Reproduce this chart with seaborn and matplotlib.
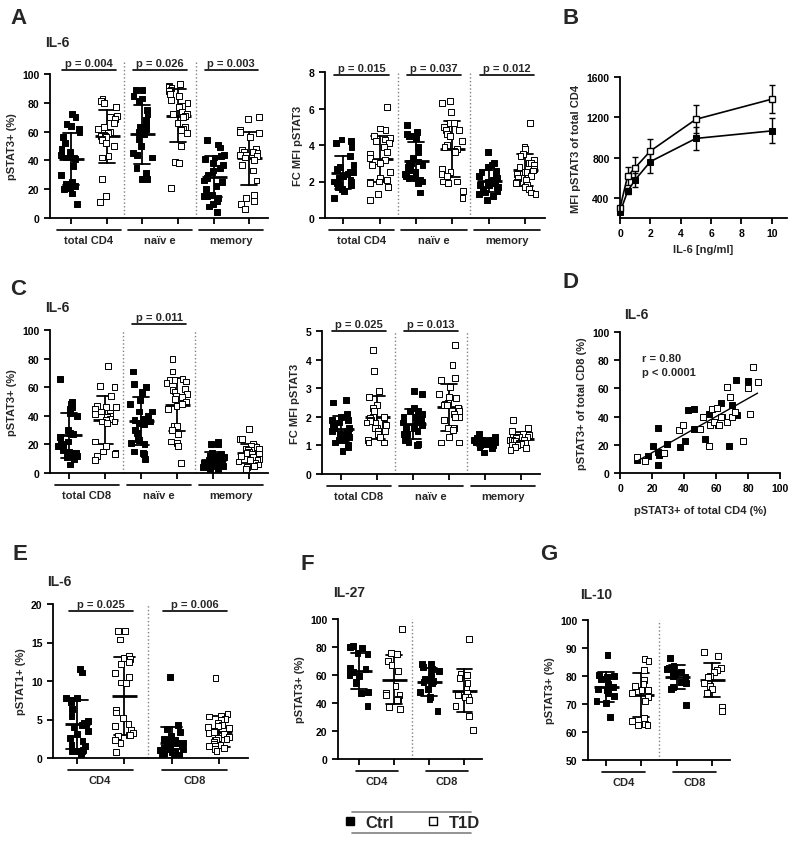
import warnings
import numpy as np
import pandas as pd
import seaborn as sns
import matplotlib
matplotlib.use('Agg')
from matplotlib import pyplot as plt
from matplotlib.lines import Line2D

warnings.filterwarnings('ignore')
np.random.seed(3)

groups = ['Ctrl', 'T1D']
pal = {'Ctrl': 'black', 'T1D': 'white'}

subsets_cd4 = ['total CD4', 'naïv e', 'memory']
subsets_cd8 = ['total CD8', 'naïv e', 'memory']
cells = ['CD4', 'CD8']

# A left - IL-6, pSTAT3+ (%) in CD4 subsets
a1_ctrl = [[72, 70, 65, 64, 62, 60, 56, 52, 48, 46, 44, 43, 42, 42, 41, 36, 30, 25, 24, 24, 23, 22, 21, 20, 17, 10],
           [89, 89, 85, 83, 81, 75, 72, 68, 65, 63, 62, 60, 58, 55, 50, 45, 44, 42, 35, 31, 28, 27, 27],
           [54, 51, 49, 44, 43, 42, 41, 38, 37, 35, 33, 32, 30, 28, 26, 25, 22, 20, 16, 15, 15, 14, 12, 10, 8, 4]]
a1_t1d = [[83, 81, 80, 77, 71, 70, 69, 66, 63, 62, 60, 59, 58, 57, 57, 56, 55, 54, 52, 50, 43, 42, 27, 15, 11],
          [93, 92, 91, 90, 89, 88, 86, 85, 82, 80, 78, 77, 74, 72, 72, 71, 70, 66, 63, 62, 61, 59, 50, 39, 38, 21],
          [70, 69, 61, 60, 60, 59, 56, 48, 47, 46, 46, 45, 44, 44, 43, 42, 40, 37, 33, 26, 16, 14, 12, 10, 6]]
a1_p = ['p = 0.004', 'p = 0.026', 'p = 0.003']

# A right - IL-6, FC MFI pSTAT3 in CD4 subsets
a2_ctrl = [[4.3, 4.2, 4.1, 3.9, 3.4, 2.9, 2.8, 2.7, 2.6, 2.5, 2.5, 2.4, 2.3, 2.2, 2.1, 2.0, 2.0, 1.9, 1.9, 1.8, 1.8, 1.7, 1.6, 1.5, 1.1],
           [5.1, 4.7, 4.6, 4.5, 4.5, 4.4, 3.9, 3.6, 3.3, 3.1, 3.0, 3.0, 2.9, 2.8, 2.7, 2.6, 2.5, 2.4, 2.3, 2.2, 2.2, 2.1, 2.0, 1.9, 1.4],
           [3.6, 3.0, 2.9, 2.8, 2.6, 2.5, 2.4, 2.3, 2.2, 2.1, 2.0, 2.0, 1.9, 1.9, 1.8, 1.8, 1.7, 1.7, 1.6, 1.5, 1.5, 1.4, 1.3, 1.2, 1.0]]
a2_t1d = [[6.1, 4.9, 4.8, 4.5, 4.4, 4.3, 4.2, 4.1, 3.9, 3.6, 3.5, 3.3, 3.2, 3.1, 3.0, 2.9, 2.5, 2.2, 2.1, 2.0, 2.0, 1.9, 1.7, 1.3, 1.0],
          [6.4, 6.3, 5.8, 5.2, 5.2, 5.0, 4.8, 4.8, 4.6, 4.5, 4.2, 4.0, 3.9, 3.8, 3.7, 3.6, 2.7, 2.5, 2.4, 2.3, 2.0, 2.0, 1.9, 1.5, 1.1],
          [5.2, 3.9, 3.8, 3.5, 3.4, 3.2, 3.0, 3.0, 2.9, 2.8, 2.7, 2.6, 2.5, 2.5, 2.4, 2.3, 2.2, 2.1, 2.0, 1.9, 1.8, 1.7, 1.6, 1.4, 1.3]]
a2_p = ['p = 0.015', 'p = 0.037', 'p = 0.012']

# B - dose response, MFI pSTAT3 of total CD4
b_conc = [0, 0.5, 1, 2, 5, 10]
b_ctrl = [255, 465, 580, 760, 990, 1065]
b_ctrl_err = [20, 30, 70, 115, 115, 125]
b_t1d = [300, 615, 700, 865, 1180, 1380]
b_t1d_err = [20, 92, 105, 115, 140, 137]

# C left - IL-6, pSTAT3+ (%) in CD8 subsets
c1_ctrl = [[66, 50, 48, 46, 45, 42, 40, 30, 28, 27, 25, 22, 21, 20, 19, 18, 16, 15, 14, 14, 13, 12, 11, 10, 6],
           [71, 62, 60, 57, 56, 51, 48, 43, 43, 40, 38, 37, 36, 35, 34, 30, 28, 24, 23, 21, 20, 15, 14, 13, 10],
           [22, 20, 20, 14, 13, 12, 12, 11, 10, 10, 9, 9, 8, 8, 8, 7, 7, 6, 6, 5, 5, 4, 4, 3, 3]]
c1_t1d = [[75, 61, 60, 54, 47, 46, 46, 45, 43, 42, 41, 40, 39, 38, 37, 36, 36, 35, 22, 19, 15, 14, 13, 12, 9],
          [80, 71, 66, 65, 65, 64, 63, 59, 58, 57, 55, 54, 53, 52, 50, 48, 47, 45, 33, 33, 30, 27, 22, 21, 19, 7],
          [31, 24, 24, 20, 19, 18, 17, 17, 16, 16, 15, 14, 13, 13, 12, 11, 10, 9, 9, 8, 7, 6, 5, 4, 3]]
c1_p = [None, 'p = 0.011', None]

# C right - IL-6, FC MFI pSTAT3 in CD8 subsets
c2_ctrl = [[2.6, 2.5, 2.1, 2.0, 1.9, 1.9, 1.8, 1.7, 1.7, 1.6, 1.6, 1.5, 1.5, 1.5, 1.4, 1.4, 1.3, 1.3, 1.2, 1.2, 1.1, 1.0, 0.95, 0.8],
           [2.9, 2.8, 2.3, 2.2, 2.2, 2.1, 2.0, 2.0, 1.9, 1.8, 1.8, 1.7, 1.6, 1.6, 1.5, 1.5, 1.4, 1.4, 1.3, 1.2, 1.1, 1.05, 1.0],
           [1.4, 1.3, 1.25, 1.2, 1.2, 1.2, 1.2, 1.15, 1.15, 1.15, 1.1, 1.1, 1.1, 1.1, 1.1, 1.05, 1.05, 1.05, 1.0, 1.0, 0.95, 0.9, 0.75]]
c2_t1d = [[4.35, 3.6, 2.9, 2.7, 2.4, 2.3, 2.2, 2.0, 2.0, 1.95, 1.9, 1.85, 1.8, 1.8, 1.75, 1.7, 1.6, 1.6, 1.5, 1.5, 1.4, 1.3, 1.2, 1.1, 1.1],
          [4.5, 3.8, 3.35, 3.3, 3.05, 2.8, 2.7, 2.65, 2.5, 2.45, 2.4, 2.4, 2.3, 2.2, 2.1, 2.0, 2.0, 1.9, 1.6, 1.6, 1.6, 1.55, 1.3, 1.1, 1.1],
          [1.9, 1.6, 1.5, 1.4, 1.4, 1.35, 1.3, 1.3, 1.3, 1.25, 1.2, 1.2, 1.2, 1.15, 1.15, 1.1, 1.1, 1.1, 1.05, 1.0, 1.0, 0.95, 0.9, 0.85]]
c2_p = ['p = 0.025', 'p = 0.013', None]

# D - correlation CD4 vs CD8 pSTAT3+
d_ctrl_cd4 = [10.8, 17.7, 20.8, 23.5, 24, 24, 24.6, 29.6, 37.7, 40.6, 42.3, 46.5, 46, 53, 55.4, 61.5, 63, 64, 68, 70, 72.5, 73, 80]
d_ctrl_cd8 = [9.5, 11.8, 18.9, 14.9, 32, 6, 12.5, 20.3, 18.4, 23, 44.4, 45.6, 31.4, 24, 42, 34, 49.6, 40, 19, 48, 66, 41, 65.5]
d_t1d_cd4 = [10.8, 15.6, 27.5, 37, 39.6, 50, 52, 55.8, 57.5, 60.4, 56, 59, 62, 63, 66.7, 66.7, 68.7, 70, 72, 77, 80, 81, 83, 86]
d_t1d_cd8 = [11.3, 8.3, 14.2, 30.7, 34.3, 31.4, 39.7, 19, 45.6, 46.3, 34, 36, 34, 40, 61, 36, 54, 40, 43, 22.5, 60, 42, 75, 64.5]

# E - IL-6, pSTAT1+ (%)
e_ctrl = [[11.6, 11.1, 7.8, 7.8, 7.5, 7.3, 6.4, 5.5, 4.8, 4.5, 4.4, 4.3, 4.0, 3.5, 3.1, 2.6, 2.2, 1.7, 1.6, 1.0, 0.9, 0.9, 0.9, 0.2],
          [10.5, 4.3, 3.8, 3.4, 2.9, 2.5, 2.3, 2.2, 2.1, 2.0, 2.0, 1.9, 1.8, 1.5, 1.3, 1.2, 1.2, 1.1, 1.0, 0.9, 0.8, 0.7, 0.5, 0.4, 0.3, 0.2, 0.2]]
e_t1d = [[16.5, 16.5, 15.4, 13.2, 13.0, 12.9, 12.5, 12.2, 11.0, 10.5, 9.8, 9.7, 6.3, 5.9, 5.2, 4.4, 4.2, 3.6, 3.3, 3.0, 3.0, 2.9, 2.3, 2.0, 0.8],
         [10.4, 5.7, 5.5, 5.4, 5.1, 4.9, 4.5, 4.3, 4.2, 4.0, 3.9, 3.5, 3.4, 3.3, 3.1, 2.7, 2.6, 2.5, 2.4, 2.3, 2.1, 1.8, 1.7, 1.6, 1.6, 1.3, 1.2, 0.9]]
e_p = ['p = 0.025', 'p = 0.006']

# F - IL-27, pSTAT3+ (%)
f_ctrl = [[81, 80, 79, 76, 75, 65, 64, 63, 62, 60, 59, 55, 54, 48, 47, 38],
          [68, 68, 66, 64, 63, 59, 57, 56, 55, 54, 50, 48, 44, 43, 34]]
f_t1d = [[93, 76, 75, 70, 67, 63, 52, 47, 46, 46, 43, 42, 37, 36],
         [86, 61, 60, 58, 54, 50, 47, 46, 44, 44, 42, 38, 31, 21]]

# G - IL-10, pSTAT3+ (%)
g_ctrl = [[87.5, 80.5, 80, 79.5, 79, 77, 76, 75.5, 75, 74, 73, 71, 70.5, 65.5],
          [86.5, 83.5, 83, 82.5, 82, 81.5, 81, 80, 79.5, 78, 77.5, 76, 75.5, 69.5]]
g_t1d = [[86, 85.5, 82, 78.5, 77, 76.5, 75, 75, 74, 72.5, 71, 65, 64, 63, 62.5, 62.5],
         [88.5, 87, 83, 82, 81.5, 80, 79.5, 77.5, 76.5, 75.5, 74, 69, 67.5]]

sns.set_style('ticks')
plt.rcParams['font.family'] = ['Liberation Sans', 'DejaVu Sans']
plt.rcParams['font.weight'] = 'bold'
plt.rcParams['axes.labelweight'] = 'bold'

W, H = 800, 845
fig = plt.figure(figsize=(8, 8.45), dpi=100)


def R(l, t, r, b):
    return [l / W, 1 - b / H, (r - l) / W, (b - t) / H]


def style_axes(ax):
    for s in ['top', 'right']:
        ax.spines[s].set_visible(False)
    for s in ['left', 'bottom']:
        ax.spines[s].set_linewidth(1.3)
        ax.spines[s].set_color('black')
    ax.tick_params(width=1.3, length=4, labelsize=7.5, colors='black')


def dot_panel(rect, cats, ctrl, t1d, ylim, yticks, ylabel, xlim, jit,
              pvals=None, pline_y=None, pl=(-0.25, 1.25), ul=(-0.4, 1.4), sep_top=1.0):
    ax = fig.add_axes(rect)
    rows, order = [], []
    for c, vc, vt in zip(cats, ctrl, t1d):
        for g, vals in (('Ctrl', vc), ('T1D', vt)):
            key = c + '|' + g
            order.append(key)
            rows += [(key, g, v) for v in vals]
    df = pd.DataFrame(rows, columns=['pos', 'group', 'value'])
    sns.stripplot(data=df, x='pos', y='value', hue='group', order=order, palette=pal, jitter=jit,
                  marker='s', size=4.2, edgecolor='black', linewidth=0.7, legend=False, ax=ax)
    sns.pointplot(data=df, x='pos', y='value', order=order, errorbar='sd', color='black',
                  markers='_', markersize=18, markeredgewidth=2, linestyle='none',
                  capsize=0.45, err_kws={'linewidth': 1.3}, ax=ax)
    ax.set_xlim(xlim)
    ax.set_ylim(ylim)
    ax.set_yticks(yticks)
    ax.set_xticks(range(len(order)))
    ax.set_xticklabels([])
    ax.set_xlabel('')
    ax.set_ylabel(ylabel, fontsize=8)
    style_axes(ax)
    h_px = rect[3] * H
    tr = ax.get_xaxis_transform()
    for i, c in enumerate(cats):
        lo, hi = 2 * i + ul[0], 2 * i + ul[1]
        ax.plot([lo, hi], [-12 / h_px] * 2, transform=tr, color='black', lw=1.2, clip_on=False)
        ax.text((lo + hi) / 2, -22 / h_px, c, transform=tr, ha='center', va='center', fontsize=8)
        if i > 0:
            ax.axvline(2 * i - 0.5, ymin=0, ymax=sep_top, color='gray', ls=':', lw=1, clip_on=False)
        if pvals and pvals[i]:
            lo, hi = 2 * i + pl[0], 2 * i + pl[1]
            ax.plot([lo, hi], [pline_y] * 2, color='black', lw=1.2, clip_on=False)
            ax.annotate(pvals[i], xy=((lo + hi) / 2, pline_y), xytext=(0, 1.5),
                        textcoords='offset points', ha='center', va='bottom', fontsize=8,
                        annotation_clip=False)
    return ax


# panel A
dot_panel(R(50, 75, 268, 219), subsets_cd4, a1_ctrl, a1_t1d, (0, 100), range(0, 101, 20),
          'pSTAT3+ (%)', (-0.59, 5.53), 0.3, a1_p, 103, sep_top=1.08)
dot_panel(R(325, 73, 545, 219), subsets_cd4, a2_ctrl, a2_t1d, (0, 8), range(0, 9, 2),
          'FC MFI pSTAT3', (-0.5, 5.55), 0.3, a2_p, 7.84)

# panel B
ax = fig.add_axes(R(620, 78, 787, 219))
ax.errorbar(b_conc, b_ctrl, yerr=b_ctrl_err, fmt='none', ecolor='black', elinewidth=1, capsize=2.5, zorder=1, clip_on=False)
ax.errorbar(b_conc, b_t1d, yerr=b_t1d_err, fmt='none', ecolor='black', elinewidth=1, capsize=2.5, zorder=1, clip_on=False)
sns.lineplot(x=b_conc, y=b_ctrl, color='black', marker='s', markersize=5, markerfacecolor='black',
             markeredgecolor='black', lw=1.2, clip_on=False, ax=ax)
sns.lineplot(x=b_conc, y=b_t1d, color='black', marker='s', markersize=5, markerfacecolor='white',
             markeredgecolor='black', markeredgewidth=1, lw=1.2, clip_on=False, ax=ax)
ax.set_xlim(0, 11)
ax.set_ylim(200, 1600)
ax.set_xticks(range(0, 11, 2))
ax.set_yticks([400, 800, 1200, 1600])
ax.set_xlabel('IL-6 [ng/ml]', fontsize=8)
ax.set_ylabel('MFI pSTAT3 of total CD4', fontsize=8)
style_axes(ax)

# panel C
dot_panel(R(50, 331, 268, 474), subsets_cd8, c1_ctrl, c1_t1d, (0, 100), range(0, 101, 20),
          'pSTAT3+ (%)', (-0.53, 5.53), 0.3, c1_p, 104)
dot_panel(R(322, 332, 540, 475), subsets_cd8, c2_ctrl, c2_t1d, (0, 5), range(0, 6),
          'FC MFI pSTAT3', (-0.53, 5.53), 0.3, c2_p, 5.0)

# panel D
ax = fig.add_axes(R(620, 333, 780, 474))
sns.regplot(x=d_ctrl_cd4 + d_t1d_cd4, y=d_ctrl_cd8 + d_t1d_cd8, scatter=False, ci=None,
            truncate=True, color='black', line_kws={'lw': 1}, ax=ax)
sns.scatterplot(x=d_ctrl_cd4, y=d_ctrl_cd8, marker='s', color='black', edgecolor='black',
                linewidth=0.7, s=24, ax=ax)
sns.scatterplot(x=d_t1d_cd4, y=d_t1d_cd8, marker='s', color='white', edgecolor='black',
                linewidth=0.7, s=24, ax=ax)
ax.set_xlim(0, 100)
ax.set_ylim(0, 100)
ax.set_xticks(range(0, 101, 20))
ax.set_yticks(range(0, 101, 20))
ax.set_xlabel('pSTAT3+ of total CD4 (%)', fontsize=8, labelpad=8)
ax.set_ylabel('pSTAT3+ of total CD8 (%)', fontsize=8)
ax.text(14, 81.5, 'r = 0.80', fontsize=8, va='center')
ax.text(14, 71.6, 'p < 0.0001', fontsize=8, va='center')
style_axes(ax)

# panels E, F, G
dot_panel(R(53, 605, 248, 759), cells, e_ctrl, e_t1d, (0, 20), range(0, 21, 5),
          'pSTAT1+ (%)', (-0.51, 3.61), 0.25, e_p, 19.1, pl=(-0.18, 1.17), ul=(-0.2, 1.17))
dot_panel(R(338, 620, 482, 760), cells, f_ctrl, f_t1d, (0, 100), range(0, 101, 20),
          'pSTAT3+ (%)', (-0.6, 3.5), 0.28, ul=(-0.1, 1.1))
dot_panel(R(588, 621, 730, 761), cells, g_ctrl, g_t1d, (50, 100), range(50, 101, 10),
          'pSTAT3+ (%)', (-0.5, 3.5), 0.28, ul=(-0.1, 1.1))

# panel letters and titles
for letter, x, y in [('A', 10, 18), ('B', 563, 19), ('C', 10, 290), ('D', 563, 283),
                     ('E', 12, 555), ('F', 300, 564), ('G', 540, 555)]:
    fig.text(x / W, 1 - y / H, letter, fontsize=16, ha='left', va='center')
for title, x, y in [('IL-6', 45, 43), ('IL-6', 45, 308), ('IL-6', 624, 315),
                    ('IL-6', 47, 582), ('IL-27', 333, 593), ('IL-10', 580, 595)]:
    fig.text(x / W, 1 - y / H, title, fontsize=10, ha='left', va='center')

# legend
for yl in (813, 834):
    fig.add_artist(Line2D([352 / W, 471 / W], [1 - yl / H] * 2, color='gray', lw=1.2))
handles = [Line2D([], [], marker='s', ls='none', markersize=6, markerfacecolor=pal[g],
                  markeredgecolor='black', markeredgewidth=1) for g in groups]
fig.legend(handles, groups, loc='center', bbox_to_anchor=(411.5 / W, 1 - 823.5 / H), ncol=2,
           frameon=False, fontsize=12, handlelength=0.8, handletextpad=0.5, columnspacing=2.0,
           borderpad=0, borderaxespad=0)

fig.savefig('out.png', dpi=100)
